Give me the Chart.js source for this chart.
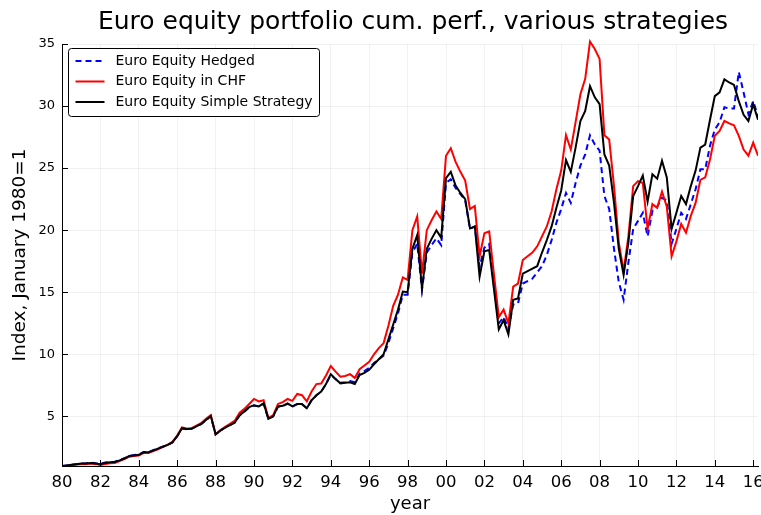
<!DOCTYPE html>
<html>
<head>
<meta charset="utf-8">
<script src="https://cdn.jsdelivr.net/npm/chart.js@4"></script>
<style>
  html, body { margin: 0; padding: 0; background: #fff; }
</style>
</head>
<body>
<canvas id="chart" width="761" height="515"></canvas>
<script>
const titleText = 'Euro equity portfolio cum. perf., various strategies';
const seriesNames = ['Euro Equity Hedged', 'Euro Equity in CHF', 'Euro Equity Simple Strategy'];
const firstYear = 1980; // quarterly observations, Jan 1980 = 1

const hedged = [
  1.00, 1.05, 1.10, 1.15,  1.20, 1.22, 1.27, 1.22,  1.18, 1.28, 1.32, 1.35,  1.48, 1.62, 1.82, 1.88,
  1.92, 2.12, 2.12, 2.27,  2.42, 2.55, 2.70, 2.90,  3.40, 4.02, 3.96, 4.00,  4.20, 4.38, 4.68, 5.00,
  3.55, 3.85, 4.10, 4.30,  4.50, 5.08, 5.38, 5.72,  5.88, 5.80, 6.02, 4.80,  5.00, 5.78, 5.83, 6.00,
  5.78, 5.98, 5.98, 5.65,  6.30, 6.70, 7.00, 7.60,  8.35, 8.00, 7.70, 7.75,  7.85, 7.75, 8.45, 8.65,
  8.90, 9.30, 9.60, 9.90,  10.9, 12.1, 13.3, 14.8,  14.8, 18.2, 18.9, 15.2,  18.2, 18.8, 19.35, 18.8,
  23.8, 24.1, 23.4, 22.9,  22.4, 20.1, 20.3, 17.05, 18.6, 18.9, 15.5, 12.5,  13.0, 12.1, 14.0, 14.1,
  15.7, 15.9, 16.1, 16.6,  17.1, 18.0, 19.2, 20.6,  21.7, 23.0, 22.2, 23.8,  25.2, 26.1, 27.65, 26.9,
  26.4, 22.75, 21.7, 18.5, 15.8, 14.4, 17.4, 20.1,  20.75, 21.4, 19.5, 21.55, 21.9, 22.6, 22.4, 18.9,
  20.1, 21.4, 20.9, 22.1,  23.3, 24.9, 24.9, 26.8,  28.1, 28.7, 29.9, 29.8,  29.8, 32.75, 31.1, 29.35,
  30.4, 29.2
];
const inChf = [
  1.00, 1.03, 1.08, 1.12,  1.15, 1.15, 1.20, 1.15,  1.08, 1.15, 1.22, 1.25,  1.40, 1.55, 1.75, 1.80,
  1.85, 2.05, 2.05, 2.20,  2.35, 2.55, 2.70, 2.95,  3.45, 4.10, 4.00, 4.05,  4.25, 4.45, 4.80, 5.10,
  3.55, 3.90, 4.15, 4.40,  4.65, 5.30, 5.60, 6.00,  6.40, 6.20, 6.30, 4.85,  5.10, 6.00, 6.15, 6.40,
  6.25, 6.80, 6.70, 6.20,  7.00, 7.60, 7.65, 8.30,  9.05, 8.60, 8.20, 8.25,  8.40, 8.10, 8.80, 9.10,
  9.40, 10.0, 10.5, 10.9,  12.3, 13.9, 14.8, 16.2,  16.0, 20.0, 21.1, 16.5,  20.0, 20.8, 21.5, 20.9,
  26.0, 26.6, 25.5, 24.7,  24.0, 21.7, 21.95, 17.9, 19.75, 19.9, 16.4, 13.0, 13.6, 12.5, 15.45, 15.7,
  17.6, 17.9, 18.2, 18.7,  19.5, 20.3, 21.5, 23.3,  24.8, 27.65, 26.5, 28.7, 30.95, 32.2, 35.2, 34.6,
  33.8, 27.65, 27.3, 23.55, 19.0, 16.7, 19.5, 23.55, 23.95, 23.8, 20.1, 22.1, 21.8, 23.1, 21.9, 17.9,
  19.1, 20.5, 19.8, 21.15, 22.2, 24.05, 24.25, 25.7, 27.6, 28.0, 28.8, 28.6,  28.45, 27.6, 26.5, 26.0,
  27.05, 26.0
];
const simple = [
  1.00, 1.05, 1.10, 1.15,  1.20, 1.20, 1.25, 1.20,  1.15, 1.25, 1.30, 1.32,  1.45, 1.60, 1.80, 1.85,
  1.90, 2.10, 2.10, 2.25,  2.40, 2.55, 2.70, 2.90,  3.40, 4.05, 3.98, 4.00,  4.20, 4.40, 4.70, 5.03,
  3.55, 3.85, 4.10, 4.30,  4.50, 5.10, 5.40, 5.75,  5.90, 5.80, 6.05, 4.80,  5.00, 5.80, 5.85, 6.05,
  5.80, 6.00, 6.00, 5.65,  6.30, 6.70, 7.00, 7.60,  8.40, 8.00, 7.66, 7.70,  7.75, 7.60, 8.33, 8.50,
  8.75, 9.20, 9.60, 10.0,  11.2, 12.4, 13.6, 15.05, 15.0, 18.5, 19.6, 15.3,  18.5, 19.3, 20.0, 19.4,
  24.2, 24.7, 23.6, 23.0,  22.5, 20.15, 20.3, 16.25, 18.3, 18.4, 15.2, 12.0, 12.75, 11.6, 14.4, 14.5,
  16.5, 16.7, 16.9, 17.1,  18.2, 19.2, 20.3, 21.8,  23.2, 25.65, 24.7, 26.65, 28.8, 29.6, 31.6, 30.7,
  30.15, 26.1, 25.2, 22.2, 18.5, 16.4, 19.0, 22.75, 23.55, 24.4, 22.3, 24.5, 24.15, 25.6, 24.25, 20.1,
  21.4, 22.75, 22.1, 23.55, 24.8, 26.65, 26.9, 28.9, 30.8, 31.1, 32.15, 31.9, 31.7, 30.4, 29.3, 28.8,
  30.15, 28.9
];

const xTicks = [1980, 1982, 1984, 1986, 1988, 1990, 1992, 1994, 1996, 1998, 2000, 2002, 2004, 2006, 2008, 2010, 2012, 2014, 2016];
const yTicks = [5, 10, 15, 20, 25, 30, 35];

const FONT = 'DejaVu Sans';
const toPoints = arr => arr.map((v, i) => ({ x: firstYear + i / 4, y: v }));

// inward tick marks, title and boxed legend inside the plot (GR style)
const decorations = {
  id: 'decorations',
  afterDatasetsDraw(chart) {
    const { ctx, chartArea: a, scales } = chart;
    ctx.save();
    ctx.strokeStyle = '#000';
    ctx.lineWidth = 1;
    ctx.beginPath();
    scales.x.ticks.forEach(t => {
      const px = Math.round(scales.x.getPixelForValue(t.value)) + 0.5;
      ctx.moveTo(px, a.bottom);
      ctx.lineTo(px, a.bottom - 6);
    });
    scales.y.ticks.forEach(t => {
      const py = Math.round(scales.y.getPixelForValue(t.value)) + 0.5;
      ctx.moveTo(a.left, py);
      ctx.lineTo(a.left + 6, py);
    });
    ctx.stroke();
    ctx.restore();
  },
  afterDraw(chart) {
    const { ctx, chartArea: a } = chart;
    ctx.save();
    ctx.fillStyle = '#000';
    ctx.font = `25px "${FONT}"`;
    ctx.textAlign = 'center';
    ctx.textBaseline = 'middle';
    ctx.fillText(titleText, (a.left + a.right) / 2 + 3, 22);

    const bx = a.left + 6.5, by = 48.5, bw = 251, bh = 68;
    ctx.beginPath();
    ctx.roundRect(bx, by, bw, bh, 3);
    ctx.fillStyle = '#fff';
    ctx.fill();
    ctx.strokeStyle = '#000';
    ctx.lineWidth = 1;
    ctx.stroke();

    ctx.font = `14px "${FONT}"`;
    ctx.textAlign = 'left';
    chart.data.datasets.forEach((ds, i) => {
      const y = 61 + i * 20.5;
      ctx.beginPath();
      ctx.strokeStyle = ds.borderColor;
      ctx.lineWidth = 2;
      ctx.setLineDash(ds.borderDash || []);
      ctx.moveTo(bx + 7, y);
      ctx.lineTo(bx + 36, y);
      ctx.stroke();
      ctx.setLineDash([]);
      ctx.fillStyle = '#000';
      ctx.fillText(ds.label, bx + 47, y);
    });
    ctx.restore();
  }
};

new Chart(document.getElementById('chart'), {
  type: 'line',
  data: {
    datasets: [
      { label: seriesNames[0], data: toPoints(hedged), borderColor: '#0000ff', borderDash: [6, 4], order: 3 },
      { label: seriesNames[1], data: toPoints(inChf), borderColor: '#ff0000', order: 2 },
      { label: seriesNames[2], data: toPoints(simple), borderColor: '#000000', order: 1 },
    ],
  },
  options: {
    responsive: false,
    animation: false,
    layout: { padding: { top: 44, right: 3, left: 0, bottom: 0 } },
    elements: { point: { radius: 0 }, line: { borderWidth: 2, tension: 0, fill: false } },
    plugins: { legend: { display: false }, title: { display: false }, tooltip: { enabled: false } },
    datasets: { line: { clip: { left: 0, right: 0, bottom: 0, top: 6 } } },
    scales: {
      x: {
        type: 'linear',
        min: 1980,
        max: 2016.25,
        afterBuildTicks: s => { s.ticks = xTicks.map(v => ({ value: v })); },
        afterFit: s => { s.height = 49; s.paddingLeft = 0; s.paddingRight = 0; },
        grid: { color: 'rgba(0,0,0,0.05)', drawTicks: false },
        border: { color: '#000', width: 1 },
        ticks: {
          color: '#000', font: { family: FONT, size: 16.5 }, padding: 7,
          maxRotation: 0, autoSkip: false,
          callback: v => String(v % 100).padStart(2, '0'),
        },
        title: { display: true, text: 'year', color: '#000', font: { family: FONT, size: 18 }, padding: 0 },
      },
      y: {
        min: 1,
        max: 35,
        afterBuildTicks: s => { s.ticks = yTicks.map(v => ({ value: v })); },
        afterFit: s => { s.width = 62; s.paddingTop = 0; s.paddingBottom = 0; },
        grid: { color: 'rgba(0,0,0,0.05)', drawTicks: false },
        border: { color: '#000', width: 1 },
        ticks: { color: '#000', font: { family: FONT, size: 13 }, padding: 7 },
        title: { display: true, text: 'Index, January 1980=1', color: '#000', font: { family: FONT, size: 18.5 }, padding: { top: 9, bottom: 0 } },
      },
    },
  },
  plugins: [decorations],
});
</script>
</body>
</html>
